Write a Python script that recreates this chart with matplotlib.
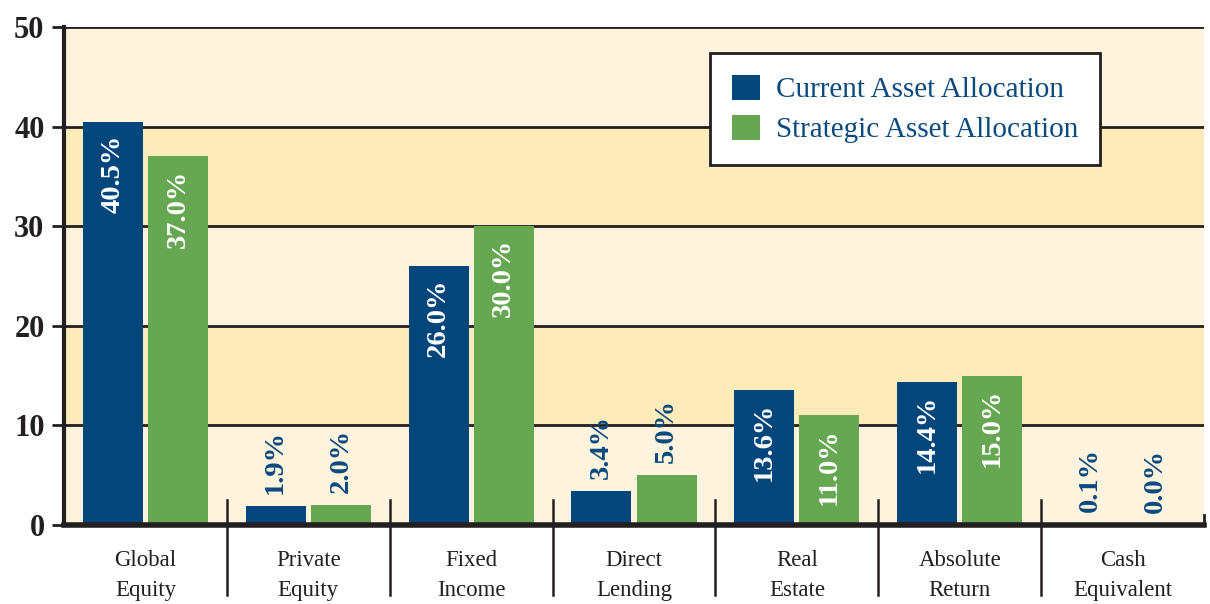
import matplotlib
matplotlib.use("Agg")
import matplotlib.pyplot as plt
from matplotlib.patches import Patch
import matplotlib.transforms as mtransforms

categories = ["Global\nEquity", "Private\nEquity", "Fixed\nIncome", "Direct\nLending",
              "Real\nEstate", "Absolute\nReturn", "Cash\nEquivalent"]
current = [40.5, 1.9, 26.0, 3.4, 13.6, 14.4, 0.1]
strategic = [37.0, 2.0, 30.0, 5.0, 11.0, 15.0, 0.0]
series_names = ["Current Asset Allocation", "Strategic Asset Allocation"]
yticks = [0, 10, 20, 30, 40, 50]

BLUE = "#03467C"
GREEN = "#66A752"
TXT_BLUE = "#0B4A7E"
LIGHT = "#FEF3DD"
DARK = "#FEEBBA"
SERIF = ["Liberation Serif", "DejaVu Serif"]

fig = plt.figure(figsize=(12.1, 6.04), dpi=100)
ax = fig.add_axes([64/1210, 1-525/604, (1204-64)/1210, (525-27)/604])

n = len(categories)
ax.set_xlim(-0.5, n - 0.5)
ax.set_ylim(0, 50)

# background bands
for i, (lo, hi) in enumerate(zip(yticks[:-1], yticks[1:])):
    ax.axhspan(lo, hi, color=(LIGHT if i % 2 == 0 else DARK), zorder=0, lw=0)
for t in yticks[1:]:
    ax.axhline(t, color="#231f20", lw=2, zorder=1)

w = 0.368
off = 0.2
xs = list(range(n))
ax.bar([x - off for x in xs], current, width=w, color=BLUE, zorder=3, label=series_names[0])
ax.bar([x + off for x in xs], strategic, width=w, color=GREEN, zorder=3, label=series_names[1])

def label(x, v):
    txt = f"{v:.1f}%"
    if v > 10:
        ax.text(x, v - 1.3, txt, rotation=90, ha="center", va="top", color="white",
                fontsize=20.5, fontweight="bold", family=SERIF, zorder=4)
    else:
        ax.text(x, v + 1.2, txt, rotation=90, ha="center", va="bottom", color=TXT_BLUE,
                fontsize=20.5, fontweight="bold", family=SERIF, zorder=4)

for x, v in zip(xs, current):
    label(x - off, v)
for x, v in zip(xs, strategic):
    label(x + off, v)

# spines / ticks
for s in ["top", "right"]:
    ax.spines[s].set_visible(False)
ax.spines["left"].set_linewidth(3)
ax.spines["bottom"].set_linewidth(4)
ax.spines["left"].set_color("#231f20")
ax.spines["bottom"].set_color("#231f20")
ax.spines["left"].set_zorder(5)
ax.spines["bottom"].set_zorder(5)
ax.set_yticks(yticks)
ax.set_yticklabels([str(t) for t in yticks], family=SERIF, fontweight="bold", fontsize=22,
                   color="#231f20")
ax.tick_params(axis="y", length=9, width=2, color="#231f20", pad=5)
ax.set_xticks([])

# right-end small tick
ax.plot([n - 0.5, n - 0.5], [0, 1.0], color="#231f20", lw=2, clip_on=False, zorder=5)

# separators
trans = mtransforms.blended_transform_factory(ax.transData, ax.transAxes)
for i in range(n - 1):
    ax.plot([i + 0.5, i + 0.5], [2.5/50, -70/498], color="#231f20", lw=1.8,
            transform=trans, clip_on=False, zorder=5)

# category labels
for x, c in zip(xs, categories):
    ax.text(x, -25/498, c, transform=trans, ha="center", va="top", fontsize=16.5,
            family=SERIF, color="#231f20", linespacing=1.55)

handles = [Patch(facecolor=BLUE), Patch(facecolor=GREEN)]
leg = fig.legend(handles, series_names, loc="upper left",
                 bbox_to_anchor=(710/1210, 1-53/604), frameon=True, fancybox=False,
                 prop={"family": SERIF, "size": 21}, labelcolor=TXT_BLUE,
                 handlelength=0.95, handleheight=0.95, handletextpad=0.55,
                 borderpad=0.75, labelspacing=0.38, borderaxespad=0)
leg.get_frame().set_edgecolor("#231f20")
leg.get_frame().set_linewidth(2)
leg.get_frame().set_facecolor("white")
leg.get_frame().set_alpha(1)

fig.savefig("out.png", dpi=100)
